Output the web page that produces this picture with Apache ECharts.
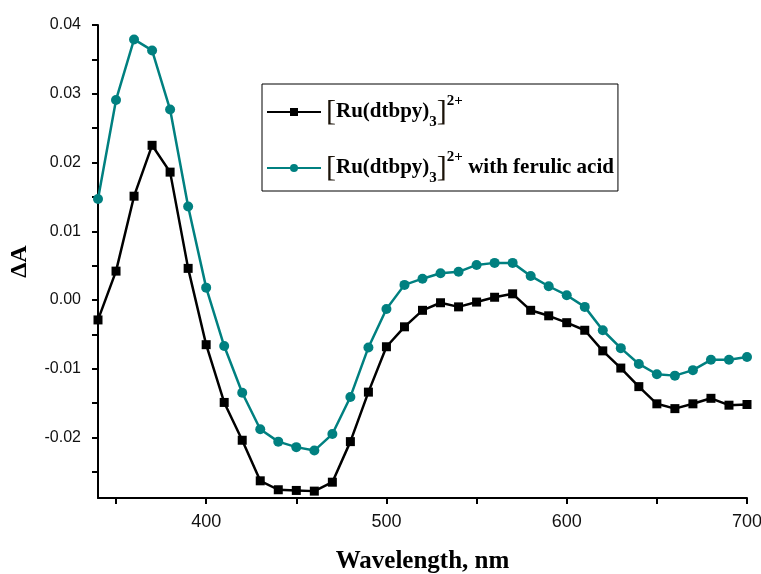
<!DOCTYPE html>
<html><head><meta charset="utf-8">
<script src="https://cdn.jsdelivr.net/npm/echarts@6/dist/echarts.min.js"></script>
<style>html,body{margin:0;padding:0;background:#fff}#c{width:761px;height:574px}</style>
</head><body><div id="c"></div>
<script>
const wavelengths = [340,350,360,370,380,390,400,410,420,430,440,450,460,470,480,490,500,510,520,530,540,550,560,570,580,590,600,610,620,630,640,650,660,670,680,690,700];
const ruValues = [-0.0029,0.0042,0.0151,0.0225,0.0186,0.0046,-0.0065,-0.0149,-0.0204,-0.0263,-0.0276,-0.0277,-0.0278,-0.0265,-0.0206,-0.0134,-0.0068,-0.0039,-0.0015,-0.0004,-0.0010,-0.0003,0.0004,0.0009,-0.0015,-0.0023,-0.0033,-0.0044,-0.0074,-0.0099,-0.0126,-0.0151,-0.0158,-0.0151,-0.0143,-0.0153,-0.0152];
const ruFaValues = [0.0147,0.0291,0.0379,0.0363,0.0277,0.0136,0.0018,-0.0067,-0.0135,-0.0188,-0.0206,-0.0214,-0.0219,-0.0195,-0.0141,-0.0069,-0.0013,0.0022,0.0031,0.0039,0.0041,0.0051,0.0054,0.0054,0.0035,0.0020,0.0007,-0.0010,-0.0044,-0.0070,-0.0093,-0.0108,-0.0110,-0.0102,-0.0087,-0.0087,-0.0083];
const xLabelValues = [400,500,600,700];
const xTickValues = [350,400,450,500,550,600,650,700];
const yLabelValues = [-0.02,-0.01,0,0.01,0.02,0.03,0.04];
const yTickValues = [-0.025,-0.02,-0.015,-0.01,-0.005,0,0.005,0.01,0.015,0.02,0.025,0.03,0.035,0.04];
const seriesNames = ['[Ru(dtbpy)3]2+', '[Ru(dtbpy)3]2+ with ferulic acid'];

const chart = echarts.init(document.getElementById('c'));
const serif = 'Liberation Serif';
const sans = 'Liberation Sans';
chart.setOption({
  animation: false,
  backgroundColor: '#fff',
  grid: {left: 98, right: 14, top: 25, bottom: 76, outerBoundsMode: 'none', containLabel: false},
  legend: {
    orient: 'vertical', left: 262, top: 84,
    padding: [10, 4, 5, 4],
    borderColor: '#000', borderWidth: 1,
    itemWidth: 54, itemHeight: 10, itemGap: 20,
    data: seriesNames,
    formatter: function (name) {
      const extra = name.indexOf('with') >= 0 ? '{t| with ferulic acid}' : '';
      return '{br|[}{t|Ru(dtbpy)}{sub|3}{br|]}{sup|2+}' + extra;
    },
    textStyle: {
      color: '#000',
      rich: {
        br: {fontFamily: serif, fontSize: 30, fontWeight: 'normal', color: '#1a1208', lineHeight: 36},
        t: {fontFamily: serif, fontSize: 21, fontWeight: 'bold', color: '#000', lineHeight: 36},
        sub: {fontFamily: serif, fontSize: 15, fontWeight: 'bold', color: '#000', lineHeight: 36, verticalAlign: 'bottom'},
        sup: {fontFamily: serif, fontSize: 15, fontWeight: 'bold', color: '#000', lineHeight: 36, verticalAlign: 'top'}
      }
    }
  },
  xAxis: {
    type: 'value', min: 340, max: 700,
    name: 'Wavelength, nm', nameLocation: 'middle', nameGap: 51,
    nameTextStyle: {fontFamily: serif, fontSize: 25, fontWeight: 'bold', color: '#000'},
    axisLine: {onZero: false, lineStyle: {color: '#000', width: 2}},
    axisTick: {show: true, inside: false, length: 6, lineStyle: {color: '#000', width: 2}, customValues: xTickValues},
    axisLabel: {customValues: xLabelValues, margin: 15, fontFamily: sans, fontSize: 18, color: '#111', hideOverlap: false},
    splitLine: {show: false}
  },
  yAxis: {
    type: 'value', min: -0.0288, max: 0.04,
    name: 'ΔA', nameLocation: 'middle', nameGap: 66,
    nameTextStyle: {fontFamily: serif, fontSize: 24, fontWeight: 'bold', color: '#000'},
    axisLine: {onZero: false, lineStyle: {color: '#000', width: 2}},
    axisTick: {show: true, inside: false, length: 6, lineStyle: {color: '#000', width: 2}, customValues: yTickValues},
    axisLabel: {customValues: yLabelValues, margin: 17, fontFamily: sans, fontSize: 16, color: '#111',
      formatter: v => v.toFixed(2)},
    splitLine: {show: false}
  },
  series: [
    {name: seriesNames[0], type: 'line', data: wavelengths.map((w, i) => [w, ruValues[i]]),
     symbol: 'rect', symbolSize: 9, lineStyle: {color: '#000', width: 2.5}, itemStyle: {color: '#000'}, z: 3},
    {name: seriesNames[1], type: 'line', data: wavelengths.map((w, i) => [w, ruFaValues[i]]),
     symbol: 'circle', symbolSize: 10, lineStyle: {color: '#008080', width: 2.5}, itemStyle: {color: '#008080'}, z: 2}
  ]
});
</script></body></html>
